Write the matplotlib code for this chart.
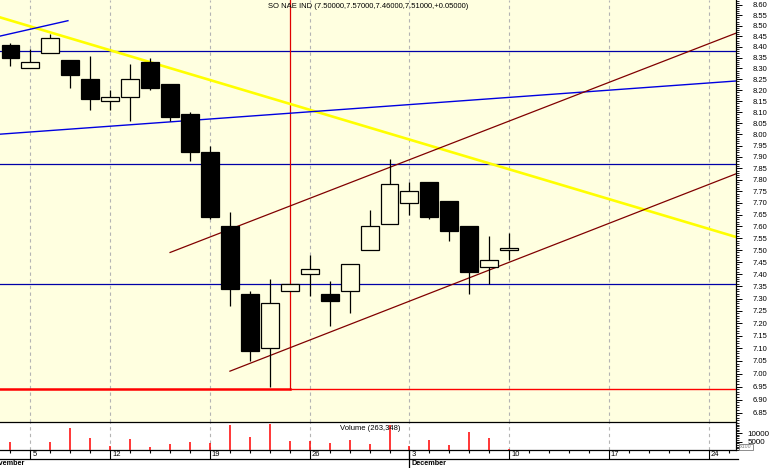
import matplotlib
matplotlib.use("Agg")
import matplotlib.pyplot as plt
import matplotlib.transforms as mtransforms
from matplotlib.ticker import FixedLocator, NullFormatter

plt.rcParams["font.family"] = ["Liberation Sans", "DejaVu Sans"]

# daily candles, one per trading day starting Fri Nov 2
opens = [8.41, 8.30, 8.37, 8.34, 8.25, 8.15, 8.17, 8.33, 8.23, 8.09, 7.92, 7.60, 7.32,
         7.10, 7.33, 7.40, 7.32, 7.33, 7.50, 7.61, 7.70, 7.79, 7.71, 7.60, 7.43, 7.50]
highs = [8.42, 8.39, 8.46, 8.34, 8.36, 8.20, 8.32, 8.35, 8.23, 8.10, 7.95, 7.66, 7.33,
         7.38, 7.36, 7.48, 7.37, 7.44, 7.67, 7.89, 7.79, 7.79, 7.71, 7.60, 7.56, 7.57]
lows = [8.31, 8.30, 8.37, 8.21, 8.11, 8.11, 8.06, 8.20, 8.06, 7.88, 7.63, 7.27, 7.05,
        6.95, 7.33, 7.31, 7.19, 7.24, 7.50, 7.61, 7.65, 7.63, 7.54, 7.32, 7.36, 7.46]
closes = [8.35, 8.33, 8.44, 8.27, 8.16, 8.17, 8.25, 8.21, 8.08, 7.92, 7.64, 7.34, 7.09,
          7.28, 7.36, 7.42, 7.29, 7.44, 7.60, 7.78, 7.75, 7.64, 7.58, 7.41, 7.46, 7.51]
volumes = [4900, 0, 4900, 13100, 7250, 2200, 6650, 1950, 3700, 4900, 4300, 14900, 7850,
           15500, 5500, 5500, 4300, 6050, 3700, 14900, 2550, 6050, 3100, 10800, 7250, 750]

week_idx = [1, 5, 10, 15, 20, 25, 30, 35]
week_labels = ["5", "12", "19", "26", "3", "10", "17", "24"]

# drawn studies
h_levels = [8.38, 7.87, 7.36]
support_level = 6.94
marker_day = 14
yellow_line = [(-0.53, 8.54), (36.37, 7.555)]
blue_short = [(-0.53, 8.451), (2.88, 8.524)]
blue_long = [(-0.53, 8.001), (36.37, 8.242)]
channel_upper = [(8.0, 7.49), (36.37, 8.465)]
channel_lower = [(11.0, 7.01), (36.37, 7.826)]

title = "SO NAE IND (7.50000,7.57000,7.46000,7.51000,+0.05000)"
vol_title = "Volume (263,348)"

W, H = 770, 468
XMIN, XMAX = -0.526, 36.37
BG = "#FFFFE0"

fig = plt.figure(figsize=(W / 100, H / 100), dpi=100, facecolor="white")
ax = fig.add_axes([0, 46 / H, 736 / W, 422 / H], facecolor=BG)
ax_vol = fig.add_axes([0, 18 / H, 736 / W, 28 / H], facecolor="white")
ax_date = fig.add_axes([0, 0, 736 / W, 18 / H])
ax_date.set_axis_off()

days = list(range(len(opens)))

# price panel
ax.set_yscale("log")
ax.set_xlim(XMIN, XMAX)
ax.set_ylim(6.814, 8.623)

for i in week_idx:
    ax.axvline(i, color="#B4B4B4", lw=0.8, ls=(0, (3, 3)), zorder=1)
    ax_vol.axvline(i, color="#B4B4B4", lw=0.8, ls=(0, (3, 3)), zorder=1)

for lvl in h_levels:
    ax.axhline(lvl, color="#0000A8", lw=0.9, zorder=2)

ax.plot([XMIN, marker_day], [support_level] * 2, color="#FF0000", lw=1.8, zorder=2)
ax.plot([marker_day, XMAX], [support_level] * 2, color="#FF0000", lw=1.0, zorder=2)
ax.plot([marker_day, marker_day], [support_level, 8.623], color="#E00000", lw=0.9, zorder=2)

for seg, col, lw in [(yellow_line, "#FFFF00", 1.9), (blue_short, "#0000E0", 1.0),
                     (blue_long, "#0000E0", 1.0), (channel_upper, "#800000", 0.9),
                     (channel_lower, "#800000", 0.9)]:
    ax.plot([seg[0][0], seg[1][0]], [seg[0][1], seg[1][1]], color=col, lw=lw, zorder=2)

ax.vlines(days, lows, highs, color="black", lw=0.9, zorder=3)
for d, o, c in zip(days, opens, closes):
    face = "black" if c < o else BG
    ax.bar(d, abs(c - o), bottom=min(o, c), width=0.9, color=face,
           edgecolor="black", lw=0.9, zorder=4)

ax.yaxis.tick_right()
major = [round(6.85 + 0.05 * k, 2) for k in range(36)]
minor = [round(6.82 + 0.01 * k, 2) for k in range(181)]
ax.yaxis.set_major_locator(FixedLocator(major))
ax.yaxis.set_major_formatter(matplotlib.ticker.FixedFormatter([f"{v:.2f}" for v in major]))
ax.yaxis.set_minor_locator(FixedLocator(minor))
ax.yaxis.set_minor_formatter(NullFormatter())
ax.tick_params(axis="y", which="major", length=4.3, width=0.7, labelsize=5.5, pad=8)
ax.tick_params(axis="y", which="minor", length=2.2, width=0.6)
ax.set_xticks([])
for side in ["left", "top", "bottom"]:
    ax.spines[side].set_visible(False)
ax.spines["right"].set_linewidth(0.9)

fig.text(368 / W, 1 - 6 / H, title, ha="center", va="center", fontsize=5.5)

# volume panel
ax_vol.set_xlim(XMIN, XMAX)
ax_vol.set_ylim(0, 16500)
ax_vol.vlines(days, 0, volumes, color="#FF0000", lw=1.1, zorder=3)
ax_vol.yaxis.tick_right()
ax_vol.set_yticks([5000, 10000])
ax_vol.set_yticklabels(["5000", "10000"])
ax_vol.yaxis.set_minor_locator(FixedLocator(list(range(0, 16001, 1000))))
ax_vol.tick_params(axis="y", which="major", length=4.3, width=0.7, labelsize=5.8, pad=4)
ax_vol.tick_params(axis="y", which="minor", length=2.2, width=0.6)
ax_vol.set_xticks(week_idx)
ax_vol.set_xticks(list(range(0, 37)), minor=True)
ax_vol.tick_params(axis="x", which="major", length=6.5, width=0.8, labelbottom=False)
ax_vol.tick_params(axis="x", which="minor", length=2.2, width=0.8)
ax_vol.spines["left"].set_visible(False)
for side in ["top", "bottom", "right"]:
    ax_vol.spines[side].set_linewidth(0.9)
ax_vol.text(16.52, 0.78, vol_title, transform=mtransforms.blended_transform_factory(
    ax_vol.transData, ax_vol.transAxes), ha="left", va="center", fontsize=5.5)
fig.text(746 / W, 1 - 447 / H, "x100", ha="center", va="center", fontsize=3.8,
         color="#808080", bbox=dict(boxstyle="square,pad=0.15", fc="white", ec="#606060", lw=0.5))

# date strip
ax_date.set_xlim(XMIN, XMAX)
ax_date.set_ylim(0, 18)
ax_date.plot([XMIN, 36.47], [9, 9], color="black", lw=0.9, clip_on=False)
for i, lab in zip(week_idx, week_labels):
    ax_date.text(i + 0.09, 13.6, lab, ha="left", va="center", fontsize=5.5)
ax_date.plot([20, 20], [0, 18], color="black", lw=0.9, clip_on=False)
ax_date.text(20 + 0.1, 4.5, "December", ha="left", va="center", fontsize=5.2, fontweight="bold")
# the reference shows this month name clipped at the left edge ("vember")
ax_date.text(XMIN + 25 / 19.95, 4.5, "November", ha="right", va="center", fontsize=5.2,
             fontweight="bold", clip_on=False)

fig.savefig("out.png", dpi=100, facecolor="white")
